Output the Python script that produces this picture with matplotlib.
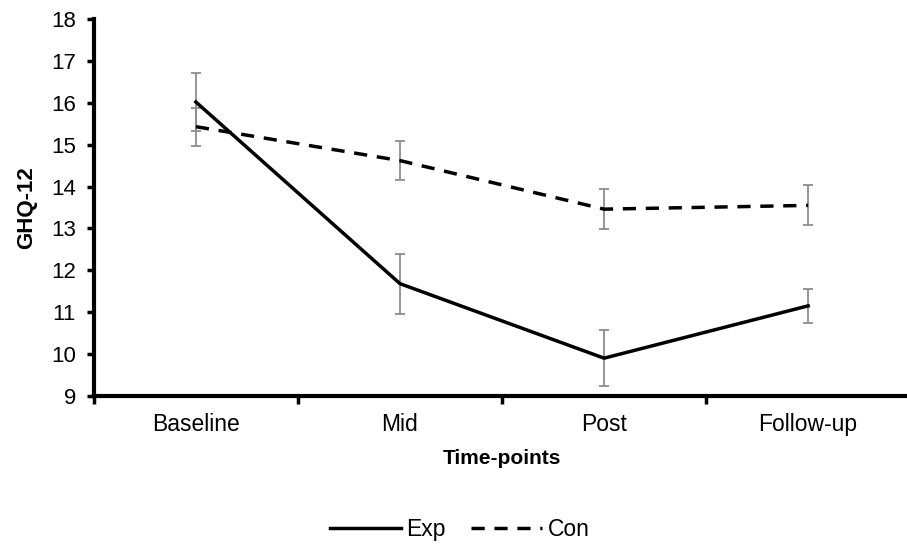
import numpy as np
import matplotlib.pyplot as plt

# Data
timepoints = ['Baseline', 'Mid', 'Post', 'Follow-up']
exp_mean = [16.02, 11.68, 9.90, 11.15]
exp_err = [0.70, 0.72, 0.67, 0.41]
con_mean = [15.43, 14.62, 13.46, 13.55]
con_err = [0.45, 0.47, 0.48, 0.48]

plt.rcParams['font.family'] = ['Liberation Sans', 'DejaVu Sans']

fig = plt.figure(figsize=(9.07, 5.46), dpi=100)
ax = fig.add_axes([0.1035, 0.275, 0.9, 0.69])

x = np.arange(len(timepoints))

# error bars first, in grey
ax.errorbar(x, exp_mean, yerr=exp_err, fmt='none', ecolor='#8c8c8c',
            elinewidth=1.3, capsize=3.5, capthick=1.3, zorder=2)
ax.errorbar(x, con_mean, yerr=con_err, fmt='none', ecolor='#8c8c8c',
            elinewidth=1.3, capsize=3.5, capthick=1.3, zorder=2)

ax.plot(x, exp_mean, color='black', lw=2.5, label='Exp', zorder=3)
ax.plot(x, con_mean, color='black', lw=2.5, ls=(0, (3.8, 2.8)), label='Con', zorder=3)

ax.set_xlim(-0.5, 3.5)
ax.set_ylim(9, 18)
ax.set_yticks(range(9, 19))
ax.tick_params(axis='y', labelsize=16, width=2.5, length=5, pad=8)

# category labels centred, ticks between categories
ax.set_xticks(x)
ax.set_xticklabels(timepoints, fontsize=16.5)
ax.tick_params(axis='x', which='major', length=0, pad=12)
ax.set_xticks(np.arange(-0.5, 3.6, 1), minor=True)
ax.tick_params(axis='x', which='minor', length=6, width=2.5)

for side in ['top', 'right']:
    ax.spines[side].set_visible(False)
for side in ['left', 'bottom']:
    ax.spines[side].set_linewidth(3)

ax.set_ylabel('GHQ-12', fontsize=16, fontweight='bold', labelpad=10)
ax.set_xlabel('Time-points', fontsize=15, fontweight='bold', labelpad=10)

fig.legend(loc='center', bbox_to_anchor=(0.507, 0.03), ncol=2, frameon=False,
           fontsize=16.5, handlelength=3.1, handletextpad=0.25, columnspacing=1.1)

fig.savefig('out.png', dpi=100)
